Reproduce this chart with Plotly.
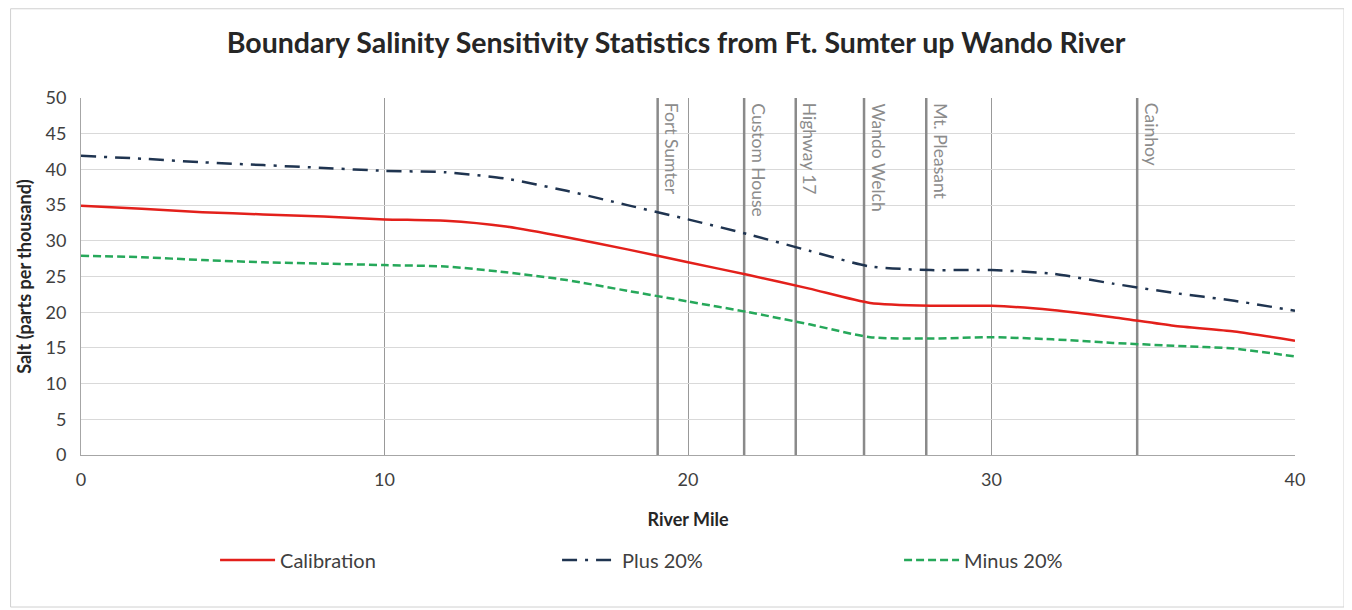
import plotly.graph_objects as go

miles = [0, 2, 4, 6, 8, 10, 12, 14, 16, 18, 20, 22, 24, 26, 28, 30, 32, 34, 36, 38, 40]
calibration = [34.9, 34.5, 34.0, 33.7, 33.4, 33.0, 32.8, 32.0, 30.5, 28.8, 27.0, 25.2, 23.3, 21.3, 20.9, 20.9, 20.3, 19.3, 18.1, 17.3, 16.0]
plus20 = [41.9, 41.5, 41.0, 40.6, 40.2, 39.8, 39.6, 38.7, 37.0, 35.0, 33.0, 30.9, 28.6, 26.4, 25.9, 25.9, 25.4, 24.0, 22.7, 21.6, 20.2]
minus20 = [27.9, 27.7, 27.3, 27.0, 26.8, 26.6, 26.4, 25.6, 24.5, 23.0, 21.5, 20.0, 18.3, 16.5, 16.3, 16.5, 16.2, 15.7, 15.3, 14.9, 13.8]

stations = ["Fort Sumter", "Custom House", "Highway 17", "Wando Welch", "Mt. Pleasant", "Cainhoy"]
station_miles = [19.0, 21.85, 23.55, 25.8, 27.85, 34.8]

x_ticks = [0, 10, 20, 30, 40]

FONT = "Lato, 'Open Sans', sans-serif"

fig = go.Figure()
fig.add_trace(go.Scatter(x=miles, y=calibration, name="Calibration", mode="lines",
                         line=dict(color="#e3201b", width=2.5, shape="spline", smoothing=0.6)))
fig.add_trace(go.Scatter(x=miles, y=plus20, name="Plus 20%", mode="lines",
                         line=dict(color="#1f3450", width=2.5, dash="15px,8px,3px,8px", shape="spline", smoothing=0.6)))
fig.add_trace(go.Scatter(x=miles, y=minus20, name="Minus 20%", mode="lines",
                         line=dict(color="#26a85a", width=2.5, dash="8px,4px", shape="spline", smoothing=0.6)))

for name, m in zip(stations, station_miles):
    fig.add_shape(type="line", x0=m, x1=m, y0=0, y1=50, xref="x", yref="y",
                  line=dict(color="#8a8a8a", width=2.5), layer="between")
    fig.add_annotation(x=m, y=50, xref="x", yref="y", text=name, showarrow=False,
                       textangle=90, xanchor="left", yanchor="top", xshift=2, yshift=-3,
                       font=dict(family=FONT, size=17.5, color="#8c8c8c"))

# chart-area border (Excel style)
fig.add_shape(type="rect", xref="paper", yref="paper", x0=-0.058, x1=1.0404, y0=-0.4258, y1=1.25,
              line=dict(color="#d0d0d0", width=1))

fig.update_layout(
    width=1352, height=610,
    paper_bgcolor="white", plot_bgcolor="white",
    margin=dict(l=73, r=65, t=90, b=163),
    title=dict(text="<b>Boundary Salinity Sensitivity Statistics from Ft. Sumter up Wando River</b>",
               x=(676 - 8 - 73) / 1214, xref="paper", xanchor="center", y=1 - 35 / 610, yanchor="middle",
               font=dict(family=FONT, size=28.5, color="#262626")),
    font=dict(family=FONT, size=18, color="#404040"),
    xaxis=dict(range=[0, 40], tickvals=x_ticks, showgrid=True, gridcolor="#999999", gridwidth=1.4,
               zeroline=False, showline=True, linecolor="#a6a6a6", linewidth=1, ticks="",
               ticklabelstandoff=8,
               title=dict(text="<b>River Mile</b>", font=dict(family=FONT, size=18, color="#262626"), standoff=24),
               tickfont=dict(size=18, color="#404040")),
    yaxis=dict(range=[0, 50], dtick=5, showgrid=True, gridcolor="#d9d9d9", gridwidth=1,
               zeroline=False, showline=True, linecolor="#a6a6a6", linewidth=1, ticks="",
               ticklabelstandoff=10,
               title=dict(text="<b>Salt (parts per thousand)</b>", font=dict(family=FONT, size=18, color="#262626"), standoff=9),
               tickfont=dict(size=18, color="#404040")),
    legend=dict(orientation="h", x=0.533, xanchor="center", y=-(560 - 8 - 447) / 357, yanchor="middle",
                font=dict(family=FONT, size=20, color="#404040"),
                entrywidth=272, entrywidthmode="pixels", itemwidth=55),
)

fig.write_html("out.html")
